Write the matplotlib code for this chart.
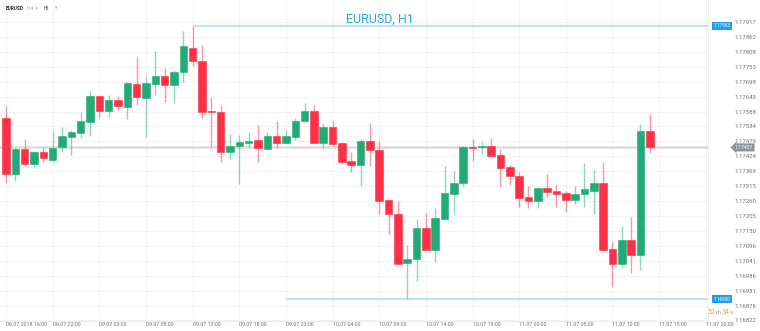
import matplotlib
matplotlib.use("Agg")
import matplotlib.pyplot as plt

plt.rcParams['font.family'] = ['Roboto', 'DejaVu Sans']

# EURUSD H1 candles
opens = [1.17566, 1.17360, 1.17452, 1.17397, 1.17440, 1.17409, 1.17457, 1.17495, 1.17511, 1.17551,
         1.17644, 1.17589, 1.17630, 1.17606, 1.17691, 1.17639, 1.17688, 1.17719, 1.17686, 1.17732,
         1.17822, 1.17773, 1.17590, 1.17586, 1.17441, 1.17463, 1.17473, 1.17483, 1.17452, 1.17498,
         1.17474, 1.17495, 1.17555, 1.17590, 1.17474, 1.17532, 1.17473, 1.17407, 1.17391, 1.17480,
         1.17448, 1.17263, 1.17213, 1.17034, 1.17046, 1.17161, 1.17079, 1.17194, 1.17286, 1.17327,
         1.17458, 1.17457, 1.17462, 1.17428, 1.17384, 1.17352, 1.17276, 1.17259, 1.17309, 1.17296,
         1.17288, 1.17264, 1.17285, 1.17297, 1.17327, 1.17083, 1.17030, 1.17116, 1.17061, 1.17516]
highs = [1.17610, 1.17456, 1.17488, 1.17444, 1.17458, 1.17518, 1.17532, 1.17521, 1.17586, 1.17665,
         1.17645, 1.17650, 1.17645, 1.17697, 1.17789, 1.17719, 1.17811, 1.17748, 1.17740, 1.17885,
         1.17903, 1.17834, 1.17643, 1.17612, 1.17506, 1.17502, 1.17513, 1.17539, 1.17514, 1.17554,
         1.17520, 1.17564, 1.17621, 1.17612, 1.17545, 1.17555, 1.17478, 1.17439, 1.17489, 1.17546,
         1.17480, 1.17264, 1.17260, 1.17099, 1.17194, 1.17216, 1.17236, 1.17389, 1.17371, 1.17464,
         1.17488, 1.17480, 1.17490, 1.17451, 1.17391, 1.17365, 1.17316, 1.17311, 1.17359, 1.17318,
         1.17298, 1.17315, 1.17400, 1.17373, 1.17404, 1.17109, 1.17169, 1.17200, 1.17542, 1.17579]
lows = [1.17327, 1.17335, 1.17390, 1.17380, 1.17402, 1.17404, 1.17441, 1.17429, 1.17492, 1.17498,
        1.17566, 1.17568, 1.17594, 1.17560, 1.17612, 1.17496, 1.17650, 1.17625, 1.17621, 1.17698,
        1.17757, 1.17566, 1.17458, 1.17404, 1.17414, 1.17321, 1.17457, 1.17404, 1.17452, 1.17456,
        1.17474, 1.17483, 1.17551, 1.17472, 1.17456, 1.17466, 1.17397, 1.17368, 1.17316, 1.17390,
        1.17211, 1.17140, 1.17031, 1.16900, 1.16968, 1.17079, 1.17036, 1.17194, 1.17213, 1.17315,
        1.17406, 1.17433, 1.17425, 1.17310, 1.17320, 1.17239, 1.17236, 1.17236, 1.17276, 1.17237,
        1.17221, 1.17250, 1.17239, 1.17213, 1.17077, 1.16948, 1.17018, 1.16995, 1.17007, 1.17435]
closes = [1.17360, 1.17452, 1.17397, 1.17440, 1.17419, 1.17455, 1.17498, 1.17513, 1.17554, 1.17644,
          1.17592, 1.17630, 1.17609, 1.17693, 1.17642, 1.17693, 1.17719, 1.17687, 1.17734, 1.17828,
          1.17773, 1.17586, 1.17586, 1.17440, 1.17464, 1.17477, 1.17480, 1.17455, 1.17498, 1.17474,
          1.17498, 1.17555, 1.17590, 1.17472, 1.17532, 1.17469, 1.17403, 1.17391, 1.17480, 1.17448,
          1.17260, 1.17211, 1.17031, 1.17046, 1.17161, 1.17079, 1.17198, 1.17289, 1.17325, 1.17459,
          1.17455, 1.17463, 1.17425, 1.17382, 1.17353, 1.17272, 1.17261, 1.17309, 1.17292, 1.17287,
          1.17264, 1.17286, 1.17303, 1.17327, 1.17080, 1.17030, 1.17116, 1.17061, 1.17516, 1.17457]

price_ticks = [1.16822, 1.16876, 1.16931, 1.16986, 1.17041, 1.17096, 1.17150, 1.17205, 1.17260,
               1.17315, 1.17369, 1.17424, 1.17479, 1.17534, 1.17588, 1.17643, 1.17698, 1.17753,
               1.17808, 1.17862, 1.17917]
time_labels = ["06.07.2018 16:00", "06.07 22:00", "09.07 03:00", "09.07 08:00", "09.07 13:00",
               "09.07 18:00", "09.07 23:00", "10.07 04:00", "10.07 09:00", "10.07 14:00",
               "10.07 19:00", "11.07 00:00", "11.07 05:00", "11.07 10:00", "11.07 15:00",
               "11.07 20:00"]
current_price = closes[-1]

GREEN = '#22ab74'
RED = '#fd3047'

fig = plt.figure(figsize=(7.6, 3.31), dpi=100)
ax = fig.add_axes([0, 10 / 331, 708 / 760, 321 / 331])
ax.set_xlim(-0.643, 75.24)
ax.set_ylim(1.16820, 1.17998)

# grid
for p in price_ticks:
    ax.axhline(p, color='#f3f3f3', lw=0.8, zorder=0)
for i in range(0, 76, 5):
    ax.axvline(i, color='#f3f3f3', lw=0.8, zorder=0)

# current price line
ax.axhline(current_price, color='#dcdcdc', lw=1.8, zorder=1)

# candles
for i in range(len(opens)):
    o, h, l, c = opens[i], highs[i], lows[i], closes[i]
    col = GREEN if c > o else RED
    ax.vlines(i, l, h, color=col, alpha=0.5, lw=1, zorder=2)
    bot = min(o, c)
    hgt = max(abs(c - o), 0.000035)
    ax.bar(i, hgt, bottom=bot, width=0.8, color=col, edgecolor=col,
           linewidth=0.4, zorder=3)

# max / min lines
i_max = highs.index(max(highs))
ax.hlines(max(highs), i_max, 75.24, color='#bde3f6', lw=1.5, zorder=1)
ax.hlines(min(lows), 30, 75.24, color='#bde3f6', lw=1.5, zorder=1)

box = dict(boxstyle='square,pad=0.35', fc='#1da1ea', ec='none')
ax.annotate('%.5f' % max(highs), xy=(722, max(highs)), xycoords=('figure pixels', 'data'),
            ha='center', va='center', fontsize=3.3, color='white', bbox=box, annotation_clip=False)
ax.annotate('%.5f' % min(lows), xy=(722, min(lows)), xycoords=('figure pixels', 'data'),
            ha='center', va='center', fontsize=3.3, color='white', bbox=box, annotation_clip=False)
ax.annotate('%.5f' % current_price, xy=(744, current_price), xycoords=('figure pixels', 'data'),
            ha='center', va='center', fontsize=3.6, color='white', annotation_clip=False,
            bbox=dict(boxstyle='larrow,pad=0.3', fc='#87959b', ec='none'), zorder=5)

# axes
for s in ax.spines.values():
    s.set_visible(False)
ax.spines['bottom'].set_visible(True)
ax.spines['bottom'].set_color('#eeeeee')
ax.spines['right'].set_visible(True)
ax.spines['right'].set_color('#eeeeee')

ax.yaxis.tick_right()
ax.set_yticks(price_ticks)
ax.set_yticklabels(['%.5f' % p for p in price_ticks])
ax.tick_params(axis='y', length=0, pad=19.4, labelsize=4.3, labelcolor='#707070')
ax.set_xticks(range(0, 76, 5))
ax.set_xticklabels(time_labels, ha='left')
ax.tick_params(axis='x', length=0, pad=0.8, labelsize=3.9, labelcolor='#707070')

# title and header
fig.text(380 / 760, 1 - 19 / 331, 'EURUSD, H1', ha='center', va='center',
         fontsize=9, color='#2ba6e2')
fig.text(6 / 760, 1 - 8 / 331, 'EURUSD', fontsize=3.5, fontweight='bold',
         color='#333333', va='center')
fig.text(27 / 760, 1 - 8 / 331, 'H4  \u25be', fontsize=3.5, color='#aaaaaa', va='center')
fig.text(44 / 760, 1 - 8 / 331, 'H1', fontsize=3.5, color='#333333', va='center')
fig.text(55 / 760, 1 - 8 / 331, '\u25be', fontsize=3.5, color='#aaaaaa', va='center')

# countdown
cy = 1 - 312 / 331
fig.text(708 / 760, cy, '52', fontsize=5, color='#f5a623', va='center')
fig.text(716 / 760, cy, 'm', fontsize=4.3, color='#999999', va='center')
fig.text(722 / 760, cy, '34', fontsize=5, color='#f5a623', va='center')
fig.text(730 / 760, cy, 's', fontsize=4.3, color='#999999', va='center')

fig.savefig('out.png', dpi=100)
